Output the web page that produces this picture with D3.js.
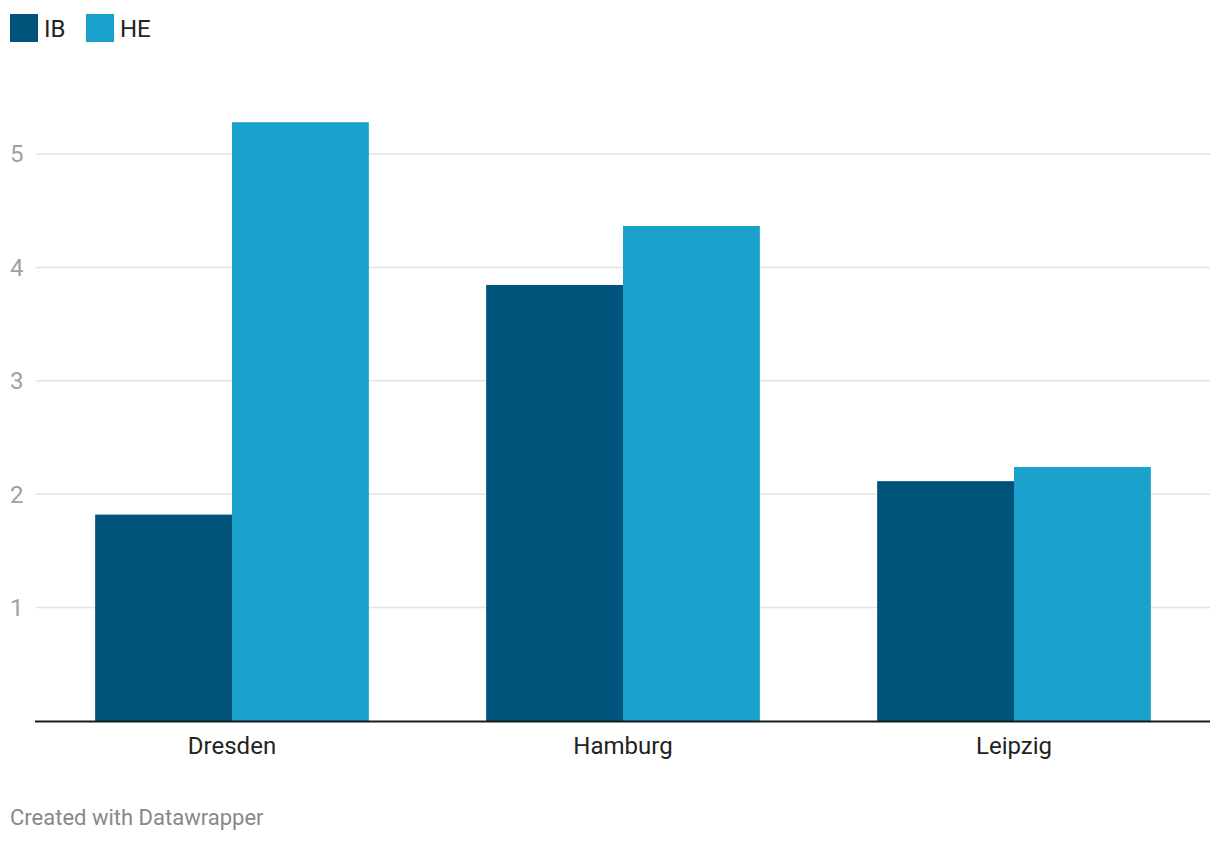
<!DOCTYPE html>
<html><head><meta charset="utf-8">
<script src="https://cdn.jsdelivr.net/npm/d3@7"></script>
<style>body{margin:0;background:#fff;font-family:Roboto,sans-serif}</style>
</head><body><svg id="c" width="1220" height="844"></svg>
<script>
const categories = ["Dresden", "Hamburg", "Leipzig"];
const seriesNames = ["IB", "HE"];
const ibValues = [1.82, 3.845, 2.115];
const heValues = [5.28, 4.365, 2.24];
const yTicks = [1, 2, 3, 4, 5];
const colors = ["#00537a", "#1aa1cc"];

const svg = d3.select("#c");
const x = d3.scaleBand().domain(categories).range([36.5, 1209.5]).paddingInner(0.3).paddingOuter(0.15);
const xs = d3.scaleBand().domain(seriesNames).range([0, x.bandwidth()]);
const y = d3.scaleLinear().domain([0, 5]).range([721, 154]);

// gridlines
svg.append("g").selectAll("line").data(yTicks).join("line")
  .attr("x1", 36).attr("x2", 1210)
  .attr("y1", d => y(d)).attr("y2", d => y(d))
  .attr("stroke", "#e3e3e3").attr("stroke-width", 1.5);
svg.append("g").selectAll("text").data(yTicks).join("text")
  .attr("x", 10).attr("y", d => y(d)).attr("dy", "0.35em")
  .attr("font-size", 24).attr("fill", "#a0a0a0").text(d => d);

const rows = categories.map((c, i) => ({c, vals: [ibValues[i], heValues[i]]}));
svg.append("g").selectAll("g").data(rows).join("g")
  .attr("transform", d => `translate(${x(d.c)},0)`)
  .selectAll("rect").data(d => d.vals.map((v, j) => ({s: seriesNames[j], v, j}))).join("rect")
  .attr("x", d => xs(d.s)).attr("width", xs.bandwidth())
  .attr("y", d => y(d.v)).attr("height", d => y(0) - y(d.v))
  .attr("fill", d => colors[d.j]);

// axis line
svg.append("line").attr("x1", 35).attr("x2", 1210).attr("y1", 721.5).attr("y2", 721.5)
  .attr("stroke", "#1a1a1a").attr("stroke-width", 2);

svg.append("g").selectAll("text").data(categories).join("text")
  .attr("x", d => x(d) + x.bandwidth() / 2).attr("y", 754)
  .attr("text-anchor", "middle").attr("font-size", 24).attr("fill", "#222").text(d => d);

// legend
const legendX = [10, 86];
const lg = svg.append("g").selectAll("g").data(seriesNames).join("g")
  .attr("transform", (d, i) => `translate(${legendX[i]},14)`);
lg.append("rect").attr("width", 28).attr("height", 28).attr("fill", (d, i) => colors[i]);
lg.append("text").attr("x", 34).attr("y", 23)
  .attr("font-size", 24).attr("fill", "#222").text(d => d);

svg.append("text").attr("x", 10).attr("y", 825).attr("font-size", 22).attr("fill", "#888")
  .text("Created with Datawrapper");
</script></body></html>
